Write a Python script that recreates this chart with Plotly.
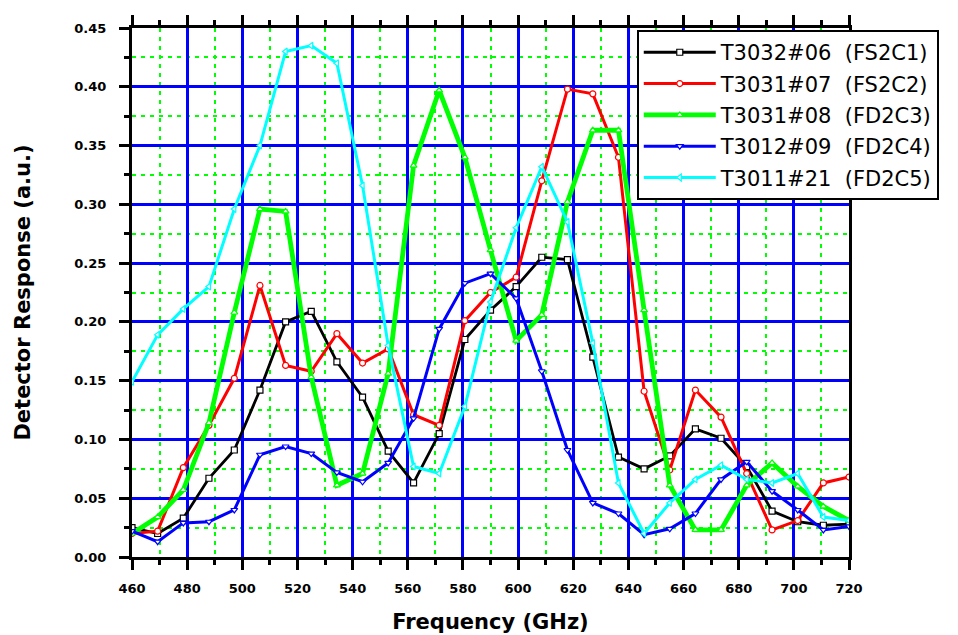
import plotly.graph_objects as go

freq = [460, 469.3, 478.6, 487.9, 497.1, 506.4, 515.7, 525.0, 534.3, 543.6,
        552.9, 562.1, 571.4, 580.7, 590.0, 599.3, 608.6, 617.9, 627.1, 636.4,
        645.7, 655.0, 664.3, 673.6, 682.9, 692.1, 701.4, 710.7, 720.0]

s_fs2c1 = [0.025, 0.020, 0.033, 0.067, 0.091, 0.142, 0.200, 0.209, 0.166, 0.136,
           0.090, 0.063, 0.105, 0.185, 0.210, 0.230, 0.255, 0.253, 0.170, 0.085,
           0.075, 0.086, 0.109, 0.101, 0.077, 0.039, 0.030, 0.027, 0.028]
s_fs2c2 = [0.020, 0.022, 0.076, 0.112, 0.152, 0.231, 0.163, 0.158, 0.190, 0.165,
           0.177, 0.121, 0.112, 0.201, 0.225, 0.238, 0.320, 0.398, 0.394, 0.340,
           0.141, 0.074, 0.142, 0.119, 0.071, 0.023, 0.031, 0.063, 0.068]
s_fd2c3 = [0.020, 0.034, 0.057, 0.114, 0.208, 0.296, 0.294, 0.153, 0.061, 0.071,
           0.156, 0.333, 0.397, 0.340, 0.261, 0.184, 0.206, 0.302, 0.363, 0.363,
           0.210, 0.061, 0.023, 0.023, 0.061, 0.080, 0.060, 0.043, 0.031]
s_fd2c4 = [0.022, 0.013, 0.029, 0.030, 0.040, 0.087, 0.094, 0.088, 0.072, 0.064,
           0.080, 0.118, 0.194, 0.233, 0.241, 0.220, 0.158, 0.091, 0.046, 0.037,
           0.019, 0.024, 0.037, 0.066, 0.081, 0.056, 0.040, 0.023, 0.026]
s_fd2c5 = [0.149, 0.189, 0.211, 0.230, 0.296, 0.350, 0.430, 0.435, 0.420, 0.316,
           0.180, 0.077, 0.071, 0.128, 0.217, 0.280, 0.332, 0.285, 0.182, 0.063,
           0.020, 0.046, 0.066, 0.078, 0.066, 0.063, 0.071, 0.034, 0.031]

names = ["T3032#06  (FS2C1)", "T3031#07  (FS2C2)", "T3031#08  (FD2C3)",
         "T3012#09  (FD2C4)", "T3011#21  (FD2C5)"]
series = [s_fs2c1, s_fs2c2, s_fd2c3, s_fd2c4, s_fd2c5]
colors = ["#000000", "#FF0000", "#00FF00", "#0000FF", "#00FFFF"]
widths = [2.8, 3, 4.8, 3, 3]
symbols = ["square", "circle", "triangle-up", "triangle-down", "triangle-left"]

x_ticks = list(range(460, 721, 20))
y_ticks = [0.00, 0.05, 0.10, 0.15, 0.20, 0.25, 0.30, 0.35, 0.40, 0.45]

fig = go.Figure()
for i, (nm, ys) in enumerate(zip(names, series)):
    fig.add_trace(go.Scatter(
        x=freq, y=ys, name=nm, mode="lines+markers", legendgroup=nm,
        line=dict(color=colors[i], width=widths[i]),
        marker=dict(symbol=symbols[i], size=6, color="white",
                    line=dict(color=colors[i], width=1.2)),
    ))

tick_font = dict(family="DejaVu Sans", size=13, color="black", weight="bold")
title_font = dict(family="DejaVu Sans", size=21, color="black", weight="bold")

fig.update_layout(
    width=958, height=635,
    margin=dict(l=132, r=109, t=28, b=78, autoexpand=False),
    plot_bgcolor="white", paper_bgcolor="white",
    showlegend=True,
    legend=dict(x=0.704, y=0.996, xanchor="left", yanchor="top",
                bgcolor="white", bordercolor="black", borderwidth=2,
                font=dict(family="DejaVu Sans", size=21, color="black"),
                itemwidth=72, tracegroupgap=1),
    xaxis=dict(
        range=[460, 720], tickmode="array", tickvals=x_ticks,
        ticktext=[str(v) for v in x_ticks], automargin=False,
        showline=True, linecolor="black", linewidth=3, mirror="ticks",
        ticks="outside", ticklen=10, tickwidth=3, tickcolor="black",
        ticklabelstandoff=7,
        showgrid=True, gridcolor="#0000FF", gridwidth=3, zeroline=False,
        minor=dict(dtick=10, tick0=460, ticks="outside", ticklen=5, tickwidth=3,
                   tickcolor="black", showgrid=True, gridcolor="#00FF00",
                   gridwidth=2, griddash="4px,5px"),
        tickfont=tick_font,
        title=dict(text="Frequency (GHz)", font=title_font, standoff=20),
    ),
    yaxis=dict(
        range=[0, 0.45], tickmode="array", tickvals=y_ticks,
        ticktext=["%.2f" % v for v in y_ticks], automargin=False,
        showline=True, linecolor="black", linewidth=3, mirror=True,
        ticks="outside", ticklen=10, tickwidth=3, tickcolor="black",
        ticklabelstandoff=10,
        showgrid=True, gridcolor="#0000FF", gridwidth=3, zeroline=False,
        minor=dict(dtick=0.025, tick0=0, ticks="outside", ticklen=5, tickwidth=3,
                   tickcolor="black", showgrid=True, gridcolor="#00FF00",
                   gridwidth=2, griddash="4px,5px"),
        tickfont=tick_font,
        title=dict(text="Detector Response (a.u.)", font=title_font, standoff=38),
    ),
)

fig.write_html("out.html", config={"displayModeBar": False},
               post_script="document.body.style.margin='0px';")
